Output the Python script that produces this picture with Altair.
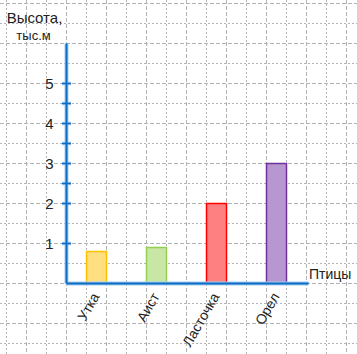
import altair as alt
import pandas as pd

# ---- data ----
birds = ["Утка", "Аист", "Ласточка", "Орел"]
heights = [0.8, 0.9, 2, 3]
stroke_colors = ["#FFC000", "#92D050", "#FF0000", "#7030A0"]
fill_colors = ["#FFDF80", "#C8E7A7", "#FF8080", "#B797CF"]
y_tick_values = [1, 2, 2.5, 3, 3.5, 4, 4.5, 5]
y_label_values = [1, 2, 3, 4, 5]
y_title = ["Высота,", "тыс.м"]
x_title = "Птицы"

W, H = 357, 354
FONT = "Liberation Sans"
AXIS_DARK = "#0B6DC6"
AXIS_LIGHT = "#A6CBEE"
GRID = "#B3B3B3"

xs = alt.Scale(domain=[-1.1, 4.85], range=[0.5, W + 0.5])
ys = alt.Scale(domain=[-1.775, 7.075], range=[H + 0.5, 0.5])

bars_df = pd.DataFrame({
    "bird": birds,
    "h": heights,
    "pos": [i + 0.5 for i in range(len(birds))],
    "zero": [0] * len(birds),
    "stroke": stroke_colors,
    "fill": fill_colors,
})
bars_df["x1"] = bars_df["pos"] - 1 / 6
bars_df["x2"] = bars_df["pos"] + 1 / 6

vgrid = pd.DataFrame({"u": [k / 3 for k in range(-3, 15)],
                      "dashed": [k % 2 == 0 for k in range(-3, 15)]})
hgrid = pd.DataFrame({"v": [k / 2 for k in range(-3, 15)],
                      "dashed": [k % 2 == 0 for k in range(-3, 15)]})

yaxis_df = pd.DataFrame({"x": [0], "y1": [0], "y2": [6]})
xaxis_df = pd.DataFrame({"y": [0], "x1": [0], "x2": [242 / 60]})
ticks_df = pd.DataFrame({"v": y_tick_values,
                         "x1": [-4.5 / 60] * len(y_tick_values),
                         "x2": [4.5 / 60] * len(y_tick_values)})
ylab_df = pd.DataFrame({"v": y_label_values, "x": [0] * len(y_label_values)})


def X(field):
    return alt.X(field, type="quantitative", scale=xs, axis=None)


def Y(field):
    return alt.Y(field, type="quantitative", scale=ys, axis=None)


layers = []
# grid
for dashed, dash in [(True, [4, 2]), (False, [2, 2])]:
    layers.append(
        alt.Chart(vgrid[vgrid.dashed == dashed]).mark_rule(
            color=GRID, strokeWidth=1, strokeDash=dash
        ).encode(x=X("u"), y=alt.value(0), y2=alt.value(H))
    )
    layers.append(
        alt.Chart(hgrid[hgrid.dashed == dashed]).mark_rule(
            color=GRID, strokeWidth=1, strokeDash=dash
        ).encode(y=Y("v"), x=alt.value(0), x2=alt.value(W))
    )

# bars
layers.append(
    alt.Chart(bars_df).mark_bar(strokeWidth=1.5).encode(
        x=X("x1"), x2="x2", y=Y("zero"), y2="h",
        fill=alt.Fill("fill:N", scale=None),
        stroke=alt.Stroke("stroke:N", scale=None),
    )
)

# axes (halo + core)
for col, w in [(AXIS_LIGHT, 4), (AXIS_DARK, 2)]:
    layers.append(alt.Chart(yaxis_df).mark_rule(color=col, strokeWidth=w).encode(
        x=X("x"), y=Y("y1"), y2="y2"))
    layers.append(alt.Chart(xaxis_df).mark_rule(color=col, strokeWidth=w).encode(
        y=Y("y"), x=X("x1"), x2="x2"))
    layers.append(alt.Chart(ticks_df).mark_rule(color=col, strokeWidth=w - 0.5).encode(
        y=Y("v"), x=X("x1"), x2="x2"))

# y labels
layers.append(
    alt.Chart(ylab_df).mark_text(
        align="right", baseline="middle", dx=-13, font=FONT, fontSize=15, color="#222222"
    ).encode(x=X("x"), y=Y("v"), text="v:Q")
)

# x labels (offset given in the rotated text frame)
layers.append(
    alt.Chart(bars_df).mark_text(
        align="right", baseline="middle", angle=300, dx=-9.5, dy=5.5, font=FONT,
        fontSize=14, color="#222222"
    ).encode(x=X("pos"), y=Y("zero"), text="bird:N")
)

one = pd.DataFrame({"a": [0]})
# titles
layers.append(alt.Chart(one).mark_text(
    align="center", baseline="alphabetic", font=FONT, fontSize=15, color="#222222",
    text=y_title[0]
).encode(x=alt.value(34.5), y=alt.value(22.7)))
layers.append(alt.Chart(one).mark_text(
    align="center", baseline="alphabetic", font=FONT, fontSize=13, color="#222222",
    text=y_title[1]
).encode(x=alt.value(33.5), y=alt.value(39.5)))
layers.append(alt.Chart(one).mark_text(
    align="left", baseline="alphabetic", font=FONT, fontSize=14, color="#222222",
    text=x_title
).encode(x=alt.value(309), y=alt.value(278.5)))

chart = alt.layer(*layers).properties(
    width=W, height=H, padding=0, autosize=alt.AutoSizeParams(type="none"),
    background="white",
).configure_view(stroke=None)

chart.save("out.html", embed_options={"renderer": "svg", "actions": False})
